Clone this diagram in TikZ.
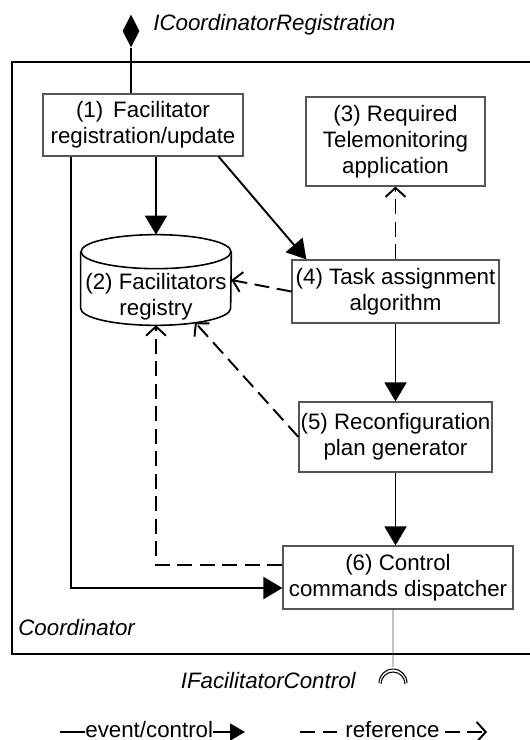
\documentclass[tikz,border=0pt]{standalone}
\usepackage{fontspec}
\setmainfont{Liberation Sans}
\usepackage{tikz}
\usetikzlibrary{arrows.meta,positioning,calc,shapes.geometric}
\definecolor{boxgray}{HTML}{555555}
\tikzset{
  compbox/.style={
    rectangle,
    draw=boxgray,
    line width=0.7pt,
    align=center,
    inner sep=0pt,
    font=\fontsize{12.7}{14.7}\selectfont
  },
  store/.style={
    rectangle,
    inner sep=0pt,
    minimum width=3cm,
    minimum height=1.8cm
  },
  storeline/.style={line width=0.9pt, draw=black},
  plaintext/.style={inner sep=0pt, align=center, font=\fontsize{12.7}{14.7}\selectfont},
  ifacelabel/.style={inner sep=0pt, font=\fontsize{12.7}{14.7}\selectfont\itshape},
  ctrl/.style={-{Triangle[length=0.38cm, width=0.44cm]}, line width=1.1pt, draw=black},
  ref/.style={-{Straight Barb[length=0.18cm, width=0.4cm]}, line width=1.1pt, draw=black,
    dash pattern=on 0.3cm off 0.15cm}
}
\begin{document}
\begin{tikzpicture}[x=0.02cm, y=-0.02cm]
  \useasboundingbox (0,0) rectangle (530,740);
  % enclosing component
  \draw[line width=0.7pt] (545,62) -- (12,62) -- (12,654) -- (545,654);
  \node[ifacelabel, anchor=base west] (coordlbl) at (18,635) {Coordinator};

  % inner parts
  \node[compbox, minimum width=4cm, minimum height=1.24cm] (facreg) at (143,125)
    {(1)\, Facilitator\\registration/update};
  \node[store] (fregistry) at (156,280) {};
  \draw[storeline] ($(fregistry.north)+(0,17)$) ellipse[x radius=1.5cm, y radius=0.34cm];
  \draw[storeline] ($(fregistry.north west)+(0,17)$) -- ($(fregistry.south west)+(0,-17)$)
    arc[start angle=180, end angle=360, x radius=1.5cm, y radius=0.34cm]
    -- ($(fregistry.north east)+(0,17)$);
  \node[plaintext] (fregtxt) at (156,297) {(2) Facilitators\\registry};
  \node[compbox, minimum width=3.58cm, minimum height=1.78cm] (telemon) at (395.5,141.5)
    {(3) Required\\Telemonitoring\\application};
  \node[compbox, minimum width=4.14cm, minimum height=1.26cm] (tasks) at (395.5,291.5)
    {(4) Task assignment\\algorithm};
  \node[compbox, minimum width=3.86cm, minimum height=1.4cm] (plangen) at (395.5,437)
    {(5) Reconfiguration\\plan generator};
  \node[compbox, minimum width=4.6cm, minimum height=1.26cm] (disp) at (398,577.5)
    {(6) Control\\commands dispatcher};

  % provided / required interfaces
  \node[diamond, aspect=0.5, fill=black, inner sep=0pt, minimum width=0.34cm, minimum height=0.66cm] (ireg) at (131,31) {};
  \node[ifacelabel, anchor=base west] (ireglbl) at (153,31) {ICoordinatorRegistration};
  \draw[line width=0.7pt] (ireg.south) -- (ireg.south |- facreg.north);

  \coordinate (sock) at (393,683);
  \draw[line width=0.5pt, draw=boxgray] ([xshift=-0.1cm]disp.south) -- ($(sock)+(0,-16)$);
  \draw[line width=0.6pt] ($(sock)+(-14,0)$) arc[start angle=180, end angle=0, radius=0.28cm];
  \draw[line width=0.6pt] ($(sock)+(-12,1)$) arc[start angle=180, end angle=0, radius=0.24cm];
  \node[ifacelabel, anchor=base east] (ifacctl) at (356,688) {IFacilitatorControl};

  % event / control flows
  \draw[ctrl] (fregistry.north |- facreg.south) -- (fregistry.north);
  \draw[ctrl] ([xshift=-0.5cm]facreg.south east) -- ([xshift=0.3cm]tasks.north west);
  \draw[ctrl] ([xshift=0.58cm]facreg.south west) |- ([yshift=-0.21cm]disp.west);
  \draw[ctrl] (tasks.south) -- (plangen.north);
  \draw[ctrl] (plangen.south) -- (plangen.south |- disp.north);

  % references
  \draw[ref] (tasks.north) -- (telemon.south);
  \draw[ref] (tasks.west) -- (fregistry.east);
  \draw[ref] (plangen.west) -- ($(fregistry.south)+(39,-3)$);
  \draw[ref] ([yshift=0.25cm]disp.west) -| (fregistry.south);

  % legend
  \coordinate (lgctlL) at (60,732);
  \node[plaintext, anchor=base west] (lgctl) at (85,737) {event/control};
  \coordinate (lgctlR) at (245,732);
  \draw[line width=1.1pt] (lgctlL) -- (lgctl.west |- lgctlL);
  \draw[line width=1.1pt, -{Triangle[length=0.3cm, width=0.34cm]}] (lgctl.east |- lgctlR) -- (lgctlR);
  \coordinate (lgrefL) at (300,732);
  \node[plaintext, anchor=base west] (lgref) at (345,737) {reference};
  \coordinate (lgrefR) at (487,732);
  \draw[ref, -] (lgrefL) -- ([xshift=-0.1cm]lgref.west |- lgrefL);
  \draw[ref] ([xshift=0.1cm]lgref.east |- lgrefR) -- (lgrefR);
\end{tikzpicture}
\end{document}
